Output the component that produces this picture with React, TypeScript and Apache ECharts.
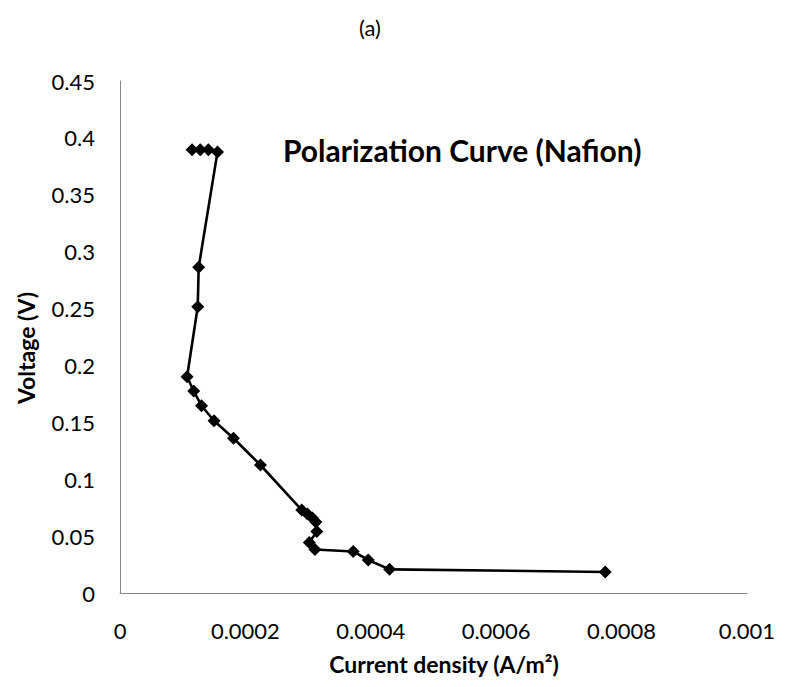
import React, { useEffect, useRef } from "react";
import * as echarts from "echarts";

const currentDensity = [
  0.000115, 0.000128, 0.000141, 0.0001555, 0.0001255, 0.000124, 0.000107,
  0.0001176, 0.00013, 0.00015, 0.000181, 0.000224, 0.00029, 0.000299,
  0.000307, 0.0003125, 0.000314, 0.000302, 0.000311, 0.000372, 0.000396,
  0.00043, 0.000774,
];
const voltage = [
  0.3895, 0.3895, 0.3895, 0.3875, 0.2863, 0.2516, 0.1901, 0.1775, 0.1646,
  0.1514, 0.136, 0.1125, 0.0729, 0.0694, 0.0659, 0.0624, 0.0541, 0.0444,
  0.0382, 0.0365, 0.029, 0.0208, 0.0185,
];
const xTicks = { min: 0, max: 0.001, interval: 0.0002 };
const yTicks = { min: 0, max: 0.45, interval: 0.05 };

const FONT = "Lato, 'Open Sans', sans-serif";

export default function App() {
  const ref = useRef<HTMLDivElement>(null);
  useEffect(() => {
    if (!ref.current) return;
    const chart = echarts.init(ref.current, null, { renderer: "svg" });
    const data = currentDensity.map((x, i) => [x, voltage[i]]);
    chart.setOption({
      animation: false,
      backgroundColor: "#fff",
      textStyle: { fontFamily: FONT },
      grid: { left: 112, right: 26, top: 73, bottom: 86, containLabel: false },
      xAxis: {
        type: "value",
        min: xTicks.min,
        max: xTicks.max,
        interval: xTicks.interval,
        axisLine: { show: true, lineStyle: { color: "#868686", width: 1 } },
        axisTick: { show: false },
        splitLine: { show: false },
        axisLabel: {
          color: "#000",
          fontSize: 22,
          fontFamily: FONT,
          margin: 26,
          formatter: (v: number) => (v === 0 ? "0" : String(Number(v.toFixed(4)))),
        },
      },
      yAxis: {
        type: "value",
        min: yTicks.min,
        max: yTicks.max,
        interval: yTicks.interval,
        axisLine: { show: true, lineStyle: { color: "#868686", width: 1 } },
        axisTick: { show: false },
        splitLine: { show: false },
        axisLabel: {
          color: "#000",
          fontSize: 22,
          fontFamily: FONT,
          margin: 25,
          formatter: (v: number) => (v === 0 ? "0" : String(Number(v.toFixed(2)))),
        },
      },
      graphic: [
        {
          type: "text",
          x: 362,
          y: 19,
          style: {
            text: "(a)",
            fontSize: 22,
            fontFamily: FONT,
            fill: "#000",
            align: "center",
            verticalAlign: "middle",
          },
        },
        {
          type: "text",
          x: 275,
          y: 142,
          style: {
            text: "Polarization Curve (Nafion)",
            fontSize: 30,
            fontWeight: "bold",
            fontFamily: FONT,
            fill: "#000",
            verticalAlign: "middle",
          },
        },
        {
          type: "text",
          x: 18,
          y: 340,
          rotation: Math.PI / 2,
          style: {
            text: "Voltage (V)",
            fontSize: 23,
            fontWeight: "bold",
            fontFamily: FONT,
            fill: "#000",
            align: "center",
            verticalAlign: "middle",
          },
        },
        {
          type: "text",
          x: 436,
          y: 656,
          style: {
            text: "Current density (A/m²)",
            fontSize: 23,
            fontWeight: "bold",
            fontFamily: FONT,
            fill: "#000",
            align: "center",
            verticalAlign: "middle",
          },
        },
      ],
      series: [
        {
          type: "line",
          data,
          symbol: "diamond",
          symbolSize: 13,
          itemStyle: { color: "#000" },
          lineStyle: { color: "#000", width: 2.6 },
          smooth: false,
        },
      ],
    });
    return () => chart.dispose();
  }, []);
  return <div ref={ref} style={{ width: 770, height: 671 }} />;
}
